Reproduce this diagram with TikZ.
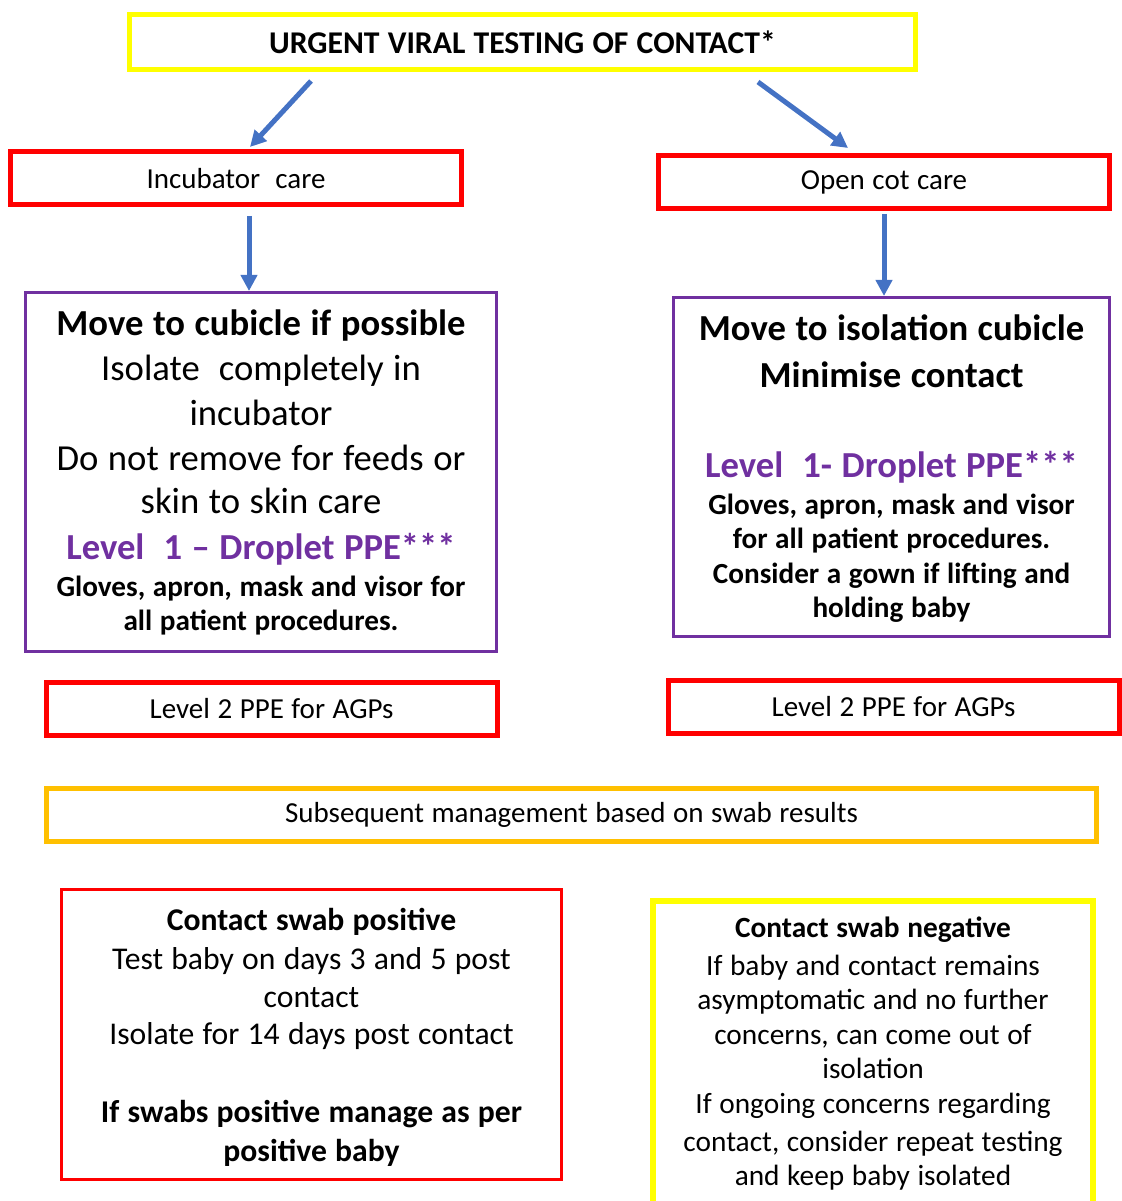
\documentclass[tikz,border=0pt]{standalone}
\usepackage{fontspec}
\setmainfont{Carlito}
\usetikzlibrary{arrows.meta}
\definecolor{brightyellow}{RGB}{255,255,0}
\definecolor{alertred}{RGB}{255,0,0}
\definecolor{ppepurple}{RGB}{112,48,160}
\definecolor{amber}{RGB}{255,192,0}
\definecolor{flowblue}{RGB}{68,114,196}
\newcommand{\fsz}[2]{\fontsize{#1}{#2}\selectfont\spaceskip=0.26em\relax}

\tikzset{
  box/.style={draw, inner sep=0pt, align=center},
  redbox/.style={box, draw=alertred, line width=3.75pt, minimum width=338.25pt, minimum height=39.75pt, font={\fsz{21.75}{26}}},
  flow/.style={flowblue, line width=3.75pt, -{Triangle[length=12pt,width=12pt]}},
}

\begin{document}
\begin{tikzpicture}[x=0.75pt,y=-0.75pt]
\useasboundingbox (0,0) rectangle (1121,1201);

		% starting point
		\node[box, draw=brightyellow, line width=3.75pt, minimum width=589.5pt, minimum height=41.25pt, font={\fsz{23.75}{28}\bfseries}] (urgent) at (522.5,42) {URGENT VIRAL TESTING OF CONTACT*};

		% type of care
		\node[redbox] (incub) at (236,178.5) {Incubator~ care};
		\node[redbox] (opencot) at (884,182) {Open cot care};

		% isolation boxes
		\node[box, draw=ppepurple, line width=2.25pt, minimum width=353.25pt, minimum height=269.25pt, text width=352pt] (cubicle) at (261,472) {%
			{\fsz{27.5}{33}\bfseries Move to cubicle if possible\par}
			{\fsz{27.5}{33.75}Isolate~ completely in\par incubator\par Do not remove for feeds or\par}
			{\fsz{27.5}{32.25}skin to skin care\par}
			{\fsz{27.5}{34.5}\bfseries\color{ppepurple}Level~ 1 -- Droplet PPE***\par}
			{\fsz{21.9}{27.75}\bfseries Gloves, apron, mask and visor for\par}
			{\fsz{21.9}{25.5}\bfseries all patient procedures.\par}};
		\node[box, draw=ppepurple, line width=2.25pt, minimum width=327pt, minimum height=254.25pt, text width=326pt] (isolation) at (891.5,467) {%
			{\fsz{27.5}{33}\bfseries\rule{0pt}{22.25pt}Move to isolation cubicle\par}
			{\fsz{27.5}{35.25}\bfseries Minimise contact\par}
			{\fsz{27.5}{67.5}\bfseries\color{ppepurple}Level~ 1- Droplet PPE***\par}
			{\fsz{21.9}{27.75}\bfseries Gloves, apron, mask and visor\par}
			{\fsz{21.9}{25.5}\bfseries for all patient procedures.\par}
			{\fsz{21.9}{26.25}\bfseries Consider a gown if lifting and\par}
			{\fsz{21.9}{25.5}\bfseries holding baby\par}};

		% level 2 for AGPs
		\node[redbox] (agpleft) at (271.5,709) {Level 2 PPE for AGPs};
		\node[redbox] (agpright) at (893.5,707) {Level 2 PPE for AGPs};

		% swab results
		\node[box, draw=amber, line width=3.75pt, minimum width=787.5pt, minimum height=39.75pt, font={\fsz{21.75}{26}}] (swab) at (571.5,815) {Subsequent management based on swab results};

		\node[box, draw=alertred, line width=2.25pt, minimum width=375pt, minimum height=217.5pt, text width=374pt] (positive) at (311.5,1034.5) {%
			{\fsz{23.75}{28}\bfseries\rule{0pt}{21.1pt}Contact swab positive\par}
			{\fsz{23.75}{29.25}Test baby on days 3 and 5 post\par}
			{\fsz{23.75}{28.5}contact\par}
			{\fsz{23.75}{27.75}Isolate for 14 days post contact\par}
			{\fsz{23.75}{58.5}\bfseries If swabs positive manage as per\par}
			{\fsz{23.75}{29.25}\bfseries positive baby\par}};
		\node[box, draw=brightyellow, line width=4.5pt, minimum width=330pt, minimum height=230.25pt, text width=328pt] (negative) at (873,1054) {%
			{\fsz{22}{26}\bfseries Contact swab negative\par}
			{\fsz{22}{28.5}If baby and contact remains\par}
			{\fsz{22}{25.5}asymptomatic and no further\par}
			{\fsz{22}{26.25}concerns, can come out of\par}
			{\fsz{22}{25.5}isolation\par}
			{\fsz{22}{26.25}If ongoing concerns regarding\par}
			{\fsz{22}{28.5}contact, consider repeat testing\par}
			{\fsz{22}{25.5}and keep baby isolated\par}};

		% arrows
		\coordinate (ls) at (311,81);
		\coordinate (le) at (250,147);
		\coordinate (rs) at (758,82);
		\coordinate (re) at (848,148);
		\coordinate (ds) at (249,216);
		\coordinate (es) at (884,214);
		\draw[flow] (ls) -- (le);
		\draw[flow] (rs) -- (re);
		\draw[flow] (ds) -- (ds |- cubicle.north);
		\draw[flow] (es) -- (es |- isolation.north);

\end{tikzpicture}
\end{document}
